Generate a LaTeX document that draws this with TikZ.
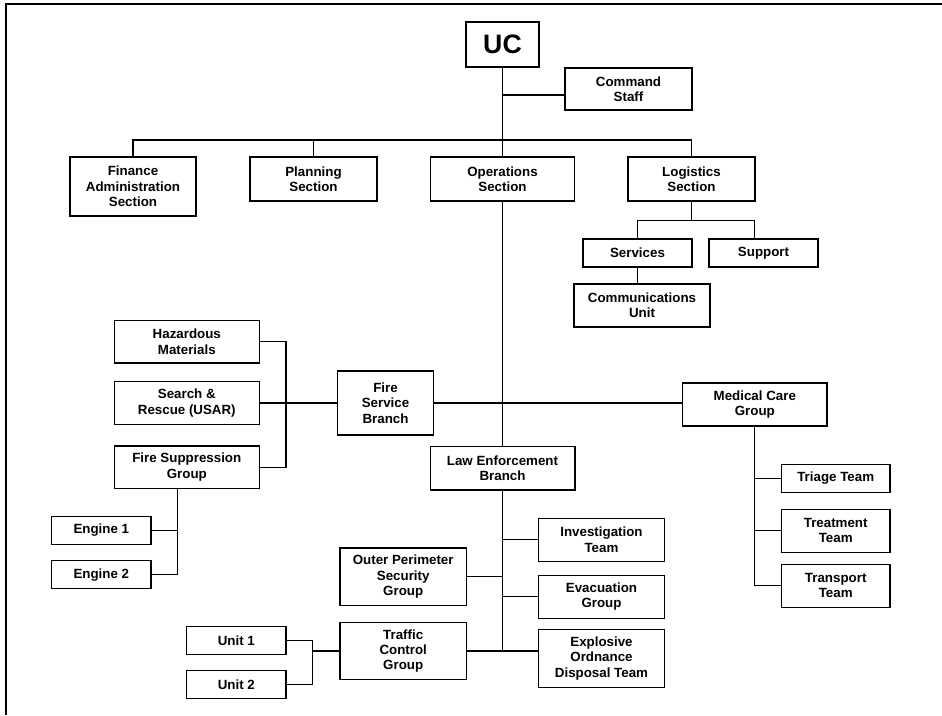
\documentclass[tikz,border=0pt]{standalone}
\usepackage{fontspec}
\setmainfont{Liberation Sans}
\usepackage{tikz}

\tikzset{
	box/.style={draw, line width=1pt, align=center, inner sep=0pt, font=\fontsize{10}{11.5}\selectfont\bfseries},
	link/.style={line width=1pt}
}

\begin{document}
\begin{tikzpicture}[x=0.75pt,y=-0.75pt]
	\useasboundingbox (0,0) rectangle (942,715);
	\draw[line width=1.2pt] (6,715) -- (6,4) -- (942,4);
	% top of the chart
	\node[box, minimum width=54.75pt, minimum height=33.75pt, font=\fontsize{20}{24}\selectfont\bfseries] (uc) at (502.5,44.5) {UC};
	\node[box, minimum width=95.25pt, minimum height=31.5pt] (cs) at (628.5,89) {Command\\Staff};
	\node[box, minimum width=94.5pt, minimum height=44.25pt] (fin) at (133,186.5) {Finance\\Administration\\Section};
	\node[box, minimum width=95.25pt, minimum height=33pt] (plan) at (313.5,179) {Planning\\Section};
	\node[box, minimum width=108pt, minimum height=33pt] (ops) at (502.5,179) {Operations\\Section};
	\node[box, minimum width=95.25pt, minimum height=33pt] (log) at (691.5,179) {Logistics\\Section};
	\node[box, minimum width=81.75pt, minimum height=21pt] (serv) at (637.5,253) {Services};
	\node[box, minimum width=81.75pt, minimum height=21pt] (supp) at (763.5,253) {Support};
	\node[box, minimum width=102pt, minimum height=32.25pt] (comm) at (642,305.5) {Communications\\Unit};
	\coordinate (topbus) at (502.5,140);
	\coordinate (logbus) at (691.5,220.7);
	\draw[link] (uc.south) -- (ops.north);
	\draw[link] ([yshift=-4.5pt]uc.south |- cs.west) -- ([yshift=-4.5pt]cs.west);
	\draw[link] (fin.north) -- (fin.north |- topbus) -- (log.north |- topbus) -- (log.north);
	\draw[link] (plan.north) -- (plan.north |- topbus);
	\draw[link] (log.south) -- (logbus);
	\draw[link] (serv.north) -- (serv.north |- logbus) -- ([xshift=-6.6pt]supp.north |- logbus) -- ([xshift=-6.6pt]supp.north);
	\draw[link] (serv.south) -- (serv.south |- comm.north);
	% fire service
	\node[box, minimum width=71.7pt, minimum height=48.2pt] (fsb) at (385.5,403) {Fire\\Service\\Branch};
	\node[box, minimum width=108.75pt, minimum height=32pt] (haz) at (186.8,341.8) {Hazardous\\Materials};
	\node[box, minimum width=108.75pt, minimum height=32pt] (sar) at (186.8,403) {Search \&\\Rescue (USAR)};
	\node[box, minimum width=108.75pt, minimum height=32pt] (fsg) at (186.8,467.2) {Fire Suppression\\Group};
	\node[box, minimum width=74.5pt, minimum height=21pt] (eng1) at (101.3,530.5) {Engine 1};
	\node[box, minimum width=74.5pt, minimum height=21pt] (eng2) at (101.3,574.7) {Engine 2};
	\node[box, minimum width=108.2pt, minimum height=32.25pt] (mcg) at (754.8,404.5) {Medical Care\\Group};
	\coordinate (firebus) at (286,403);
	\coordinate (engbus) at (177.7,530);
	\draw[link] (fsb.east) -- (fsb.east -| mcg.west);
	\draw[link] (sar.east) -- (fsb.west);
	\draw[link] (haz.east) -- (haz.east -| firebus) -- (fsg.east -| firebus) -- (fsg.east);
	\draw[link] (engbus |- fsg.south) -- (engbus |- eng2.east) -- (eng2.east);
	\draw[link] (eng1.east) -- (eng1.east -| engbus);
	% medical care
	\node[box, minimum width=81.5pt, minimum height=21pt] (triage) at (835.7,478.3) {Triage Team};
	\node[box, minimum width=81.5pt, minimum height=32.25pt] (treat) at (835.7,530.8) {Treatment\\Team};
	\node[box, minimum width=81.5pt, minimum height=32.25pt] (trans) at (835.7,585.7) {Transport\\Team};
	\draw[link] (mcg.south) -- (mcg.south |- trans.west) -- (trans.west);
	\draw[link] (triage.west) -- (triage.west -| mcg.south);
	\draw[link] (treat.west) -- (treat.west -| mcg.south);
	% law enforcement
	\node[box, minimum width=108.5pt, minimum height=32.5pt] (leb) at (502.5,468.3) {Law Enforcement\\Branch};
	\node[box, minimum width=94.8pt, minimum height=32.25pt] (inv) at (601.5,539.8) {Investigation\\Team};
	\node[box, minimum width=94.8pt, minimum height=32.25pt] (evac) at (601.5,596.7) {Evacuation\\Group};
	\node[box, minimum width=94.8pt, minimum height=43.8pt] (eod) at (601.5,658.5) {Explosive\\Ordnance\\Disposal Team};
	\node[box, minimum width=94.7pt, minimum height=43.1pt] (opsg) at (403.2,576.8) {Outer Perimeter\\Security\\Group};
	\node[box, minimum width=94.7pt, minimum height=43.1pt] (tcg) at (403.2,651) {Traffic\\Control\\Group};
	\node[box, minimum width=74.5pt, minimum height=21pt] (unit1) at (236.3,640.5) {Unit 1};
	\node[box, minimum width=74.5pt, minimum height=21pt] (unit2) at (236.3,684.7) {Unit 2};
	\coordinate (unitbus) at (312.7,650);
	\draw[link] (ops.south) -- (leb.north);
	\draw[link] (leb.south) -- (leb.south |- tcg.east);
	\draw[link] (tcg.east) -- (tcg.east -| eod.west);
	\draw[link] (inv.west) -- (inv.west -| leb.south);
	\draw[link] (evac.west) -- (evac.west -| leb.south);
	\draw[link] (opsg.east) -- (opsg.east -| leb.south);
	\draw[link] (tcg.west) -- (tcg.west -| unitbus);
	\draw[link] (unit1.east) -- (unit1.east -| unitbus) -- (unit2.east -| unitbus) -- (unit2.east);
\end{tikzpicture}
\end{document}
